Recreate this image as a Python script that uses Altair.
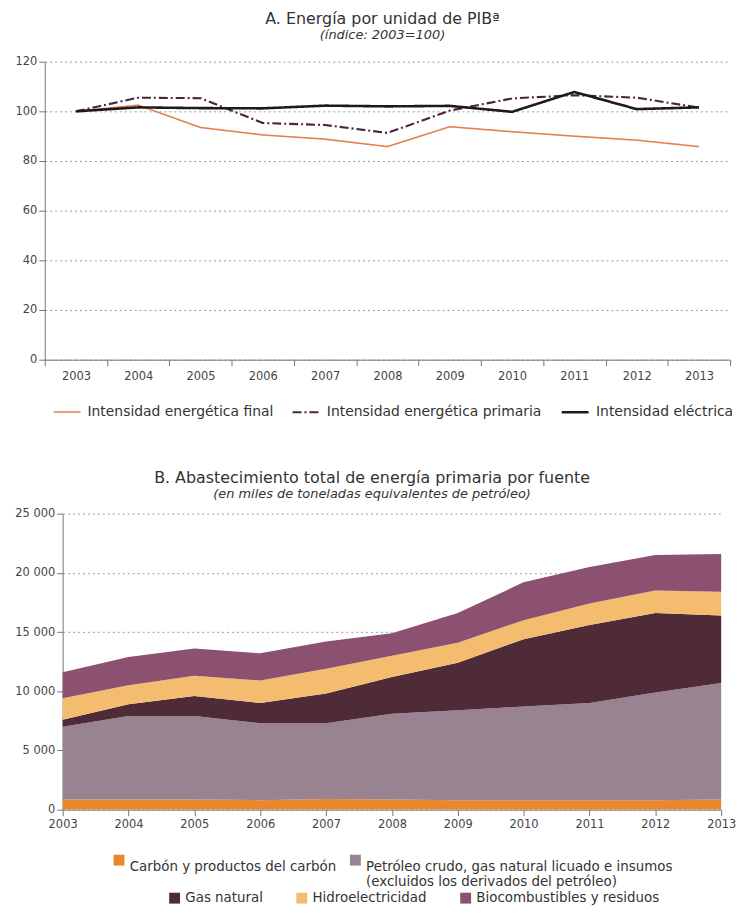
import altair as alt
import pandas as pd

FONT = "DejaVu Sans"

years = list(range(2003, 2014))

# ---- Panel A: energy per unit of GDP (index 2003=100)
series_a = ["Intensidad energética final", "Intensidad energética primaria", "Intensidad eléctrica"]
final_int = [100, 102.5, 93.5, 90.5, 88.8, 85.8, 93.8, 91.8, 90.0, 88.4, 85.8]
primary_int = [100, 105.5, 105.3, 95.3, 94.5, 91.3, 100.3, 105.2, 106.5, 105.5, 101.5]
electric_int = [100, 101.6, 101.3, 101.2, 102.3, 102.0, 102.2, 99.8, 107.8, 100.9, 101.6]
colors_a = ["#E4804F", "#4A2638", "#1E1A1C"]
dashes_a = [[1, 0], [9, 3, 2, 3], [1, 0]]
widths_a = [1.6, 2.6, 3.6]

# ---- Panel B: total primary energy supply by source (thousand toe)
fuentes = [
    "Carbón y productos del carbón",
    "Petróleo crudo, gas natural licuado e insumos (excluidos los derivados del petróleo)",
    "Gas natural",
    "Hidroelectricidad",
    "Biocombustibles y residuos",
]
coal = [850, 850, 850, 800, 900, 850, 800, 800, 800, 800, 850]
oil = [6150, 7050, 7050, 6500, 6400, 7250, 7600, 7900, 8200, 9100, 9850]
gas = [600, 1000, 1700, 1700, 2500, 3100, 4000, 5700, 6600, 6700, 5700]
hydro = [1800, 1600, 1700, 1900, 2100, 1800, 1700, 1600, 1800, 1900, 2000]
bio = [2200, 2400, 2300, 2300, 2300, 1900, 2500, 3200, 3100, 3000, 3200]
colors_b = ["#E8872D", "#9A8391", "#4F2B38", "#F3BC6E", "#8C5070"]

# ---------------- data tables
rows_a = []
for name, vals in zip(series_a, [final_int, primary_int, electric_int]):
    for y, v in zip(years, vals):
        rows_a.append({"year": str(y), "serie": name, "value": v})
dfa = pd.DataFrame(rows_a)

rows_b = []
for i, (name, vals) in enumerate(zip(fuentes, [coal, oil, gas, hydro, bio])):
    for y, v in zip(years, vals):
        rows_b.append({"year": y, "fuente": name, "value": v, "order": i})
dfb = pd.DataFrame(rows_b)

# ---------------- Panel A chart
SHIFT = 18  # panel A plot starts further left than panel B
WA = 672
leg_a = alt.Legend(
    title=None, orient="none", legendX=-10, legendY=338, direction="horizontal",
    symbolType="stroke", symbolSize=729, labelFontSize=14, labelFont=FONT,
    labelColor="#333", columnPadding=14, labelLimit=400, labelOffset=6,
)
upper = alt.Chart(dfa).mark_line(strokeJoin="round").encode(
    x=alt.X("year:O", bandPosition=0.5,
            scale=alt.Scale(type="band", paddingInner=0, paddingOuter=0, range=[-SHIFT, WA]),
            axis=alt.Axis(title=None, labelAngle=0, tickBand="extent", grid=False,
                          labelPadding=5)),
    y=alt.Y("value:Q", scale=alt.Scale(domain=[0, 120], nice=False),
            axis=alt.Axis(title=None, values=[0, 20, 40, 60, 80, 100, 120], grid=True,
                          gridDash=[2, 3], gridColor="#9a9a9a", gridWidth=1, offset=SHIFT)),
    color=alt.Color("serie:N", scale=alt.Scale(domain=series_a, range=colors_a), legend=leg_a),
    strokeDash=alt.StrokeDash("serie:N", scale=alt.Scale(domain=series_a, range=dashes_a), legend=leg_a),
    strokeWidth=alt.StrokeWidth("serie:N", scale=alt.Scale(domain=series_a, range=widths_a), legend=leg_a),
).properties(
    width=WA, height=300,
    title=alt.TitleParams(text="A. Energía por unidad de PIBª", subtitle="(índice: 2003=100)",
                          offset=12, dy=-2, dx=-14),
)

# ---------------- Panel B chart
row1 = fuentes[:2]
row2 = fuentes[2:]

base = alt.Chart(dfb).transform_stack(
    stack="value", groupby=["year"], as_=["y0", "y1"],
    sort=[alt.SortField("order", order="ascending")],
)
xb = alt.X("year:Q", scale=alt.Scale(domain=[2003, 2013], nice=False),
           axis=alt.Axis(title=None, values=years, format="d", grid=False, labelFlush=False,
                         labelOverlap=False, labelPadding=3))
yb = alt.Y("y0:Q", scale=alt.Scale(domain=[0, 25000], nice=False),
           axis=alt.Axis(title=None, values=[0, 5000, 10000, 15000, 20000, 25000], grid=True,
                         gridDash=[2, 3], gridColor="#9a9a9a", gridWidth=1,
                         labelExpr="replace(format(datum.value, ','), ',', ' ')"))

two_line = ("datum.label == '" + fuentes[1] + "' ? "
            "['Petróleo crudo, gas natural licuado e insumos', '(excluidos los derivados del petróleo)']"
            " : [datum.label, '']")

layer1 = base.transform_filter(
    alt.FieldOneOfPredicate(field="fuente", oneOf=row1)
).mark_area(opacity=1).encode(
    x=xb, y=yb, y2="y1:Q",
    color=alt.Color("fuente:N", scale=alt.Scale(domain=row1, range=colors_b[:2]),
                    legend=alt.Legend(title=None, orient="none", legendX=50, legendY=342,
                                      direction="horizontal", symbolType="square",
                                      symbolSize=120, symbolStrokeWidth=0,
                                      labelFontSize=13.5, labelFont=FONT, labelColor="#333",
                                      labelLimit=500, columnPadding=12, labelOffset=4,
                                      labelExpr=two_line, labelBaseline="top")),
    order=alt.Order("order:Q"),
)
layer2 = base.transform_filter(
    alt.FieldOneOfPredicate(field="fuente", oneOf=row2)
).mark_area(opacity=1).encode(
    x=xb, y=yb, y2="y1:Q",
    color=alt.Color("fuente:N", scale=alt.Scale(domain=row2, range=colors_b[2:]),
                    legend=alt.Legend(title=None, orient="none", legendX=106, legendY=380,
                                      direction="horizontal", symbolType="square",
                                      symbolSize=120, symbolStrokeWidth=0,
                                      labelFontSize=13.5, labelFont=FONT, labelColor="#333",
                                      labelLimit=500, columnPadding=32, labelOffset=4)),
    order=alt.Order("order:Q"),
)
lower = alt.layer(layer1, layer2).resolve_scale(color="independent").resolve_legend(
    color="independent"
).properties(
    width=663, height=298,
    title=alt.TitleParams(text="B. Abastecimiento total de energía primaria por fuente",
                          subtitle="(en miles de toneladas equivalentes de petróleo)",
                          offset=7, dx=-20),
)

chart = alt.vconcat(upper, lower, spacing=51).resolve_scale(
    color="independent", strokeDash="independent", strokeWidth="independent"
).resolve_legend(
    color="independent", strokeDash="independent", strokeWidth="independent"
).properties(
    padding={"left": 6, "right": 0, "top": 0, "bottom": 0}
).configure_view(stroke=None).configure_axis(
    labelFont=FONT, labelFontSize=11.5, labelColor="#444", domainColor="#777",
    tickColor="#777", tickSize=6, labelPadding=2,
).configure_title(
    font=FONT, fontSize=16, fontWeight="normal", color="#333", anchor="middle",
    subtitleFont=FONT, subtitleFontSize=13, subtitleFontStyle="italic", subtitleColor="#333",
    subtitlePadding=2,
)

chart.save("out.html", embed_options={"renderer": "svg", "actions": False})
